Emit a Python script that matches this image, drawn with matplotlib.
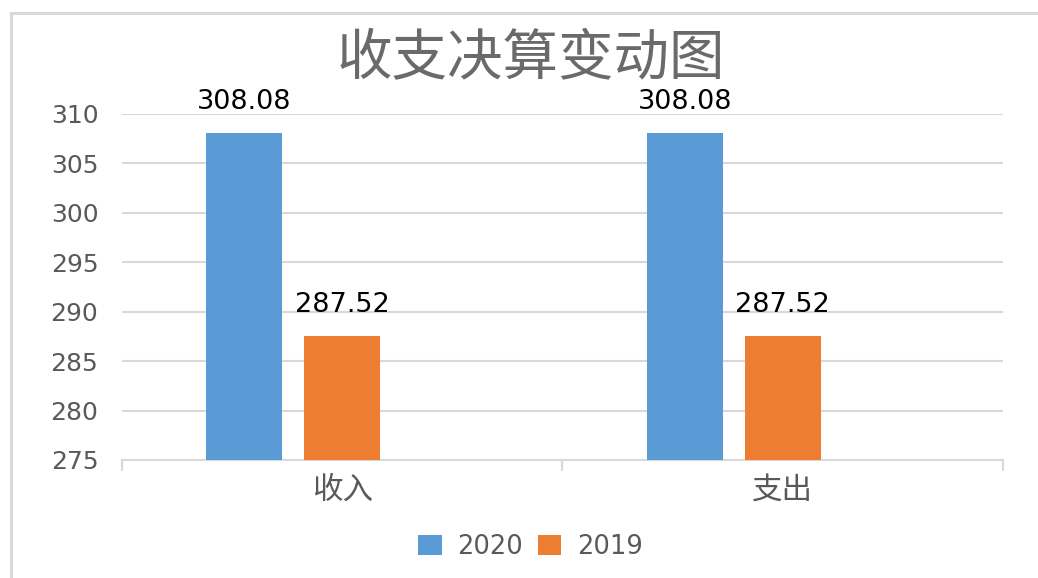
import matplotlib.pyplot as plt
from matplotlib.lines import Line2D

plt.rcParams['font.family'] = ['Noto Sans CJK SC', 'DejaVu Sans']

categories = ['收入', '支出']
series_names = ['2020', '2019']
values_2020 = [308.08, 308.08]
values_2019 = [287.52, 287.52]
y_ticks = [275, 280, 285, 290, 295, 300, 305, 310]

colors = ['#5B9BD5', '#ED7D31']
grey = '#595959'

fig = plt.figure(figsize=(10.38, 5.78), dpi=100)
ax = fig.add_axes([0.1175, 0.2042, 0.8488, 0.5986])

# chart frame (only left and top edges are inside the picture)
fig.add_artist(Line2D([11 / 1038, 11 / 1038], [0, 1 - 13 / 578], color='#D9D9D9', lw=2.2,
                      transform=fig.transFigure))
fig.add_artist(Line2D([11 / 1038, 1], [1 - 13 / 578, 1 - 13 / 578], color='#D9D9D9', lw=2.2,
                      transform=fig.transFigure))

width = 0.1725
step = 0.2225
x = list(range(len(categories)))
for k, vals in enumerate([values_2020, values_2019]):
    pos = [i + (k - 1) * step for i in x]
    bars = ax.bar(pos, [v - 275 for v in vals], width, bottom=275, color=colors[k],
                  label=series_names[k], zorder=3)
    for b, v in zip(bars, vals):
        ax.annotate(f'{v:.2f}', (b.get_x() + b.get_width() / 2, v), xytext=(0, 13),
                    textcoords='offset points', ha='center', va='bottom',
                    fontsize=19.5, color='black', family='DejaVu Sans')

ax.set_xlim(-0.5, 1.5)
ax.set_ylim(275, 310)
ax.set_yticks(y_ticks)
ax.set_yticklabels([str(t) for t in y_ticks], family='DejaVu Sans', fontsize=18, color=grey)
ax.tick_params(axis='y', length=0, pad=17)
ax.set_xticks([-0.5, 0.5, 1.5], minor=False)
ax.set_xticklabels([])
ax.tick_params(axis='x', length=8, color='#D9D9D9', width=1.5, direction='out')
ax.set_xticks(x, minor=True)
ax.set_xticklabels(categories, minor=True, fontsize=22, color=grey, fontweight='light')
ax.tick_params(axis='x', which='minor', length=0, pad=11)
ax.grid(axis='y', color='#D9D9D9', lw=1.5, zorder=0)
for s in ['top', 'right', 'left']:
    ax.spines[s].set_visible(False)
ax.spines['bottom'].set_color('#D9D9D9')
ax.spines['bottom'].set_linewidth(1.5)

fig.text(0.511, 0.897, '收支决算变动图', ha='center', va='center', fontsize=40,
         color='#6a6a6a', fontweight='light')

leg = fig.legend(loc='center', bbox_to_anchor=(0.511, 0.054), ncol=2, frameon=False,
                 handlelength=0.9, handleheight=0.8, handletextpad=0.6, columnspacing=0.6,
                 prop={'family': 'DejaVu Sans', 'size': 18.5})
for t in leg.get_texts():
    t.set_color(grey)

fig.savefig('out.png', dpi=100)
